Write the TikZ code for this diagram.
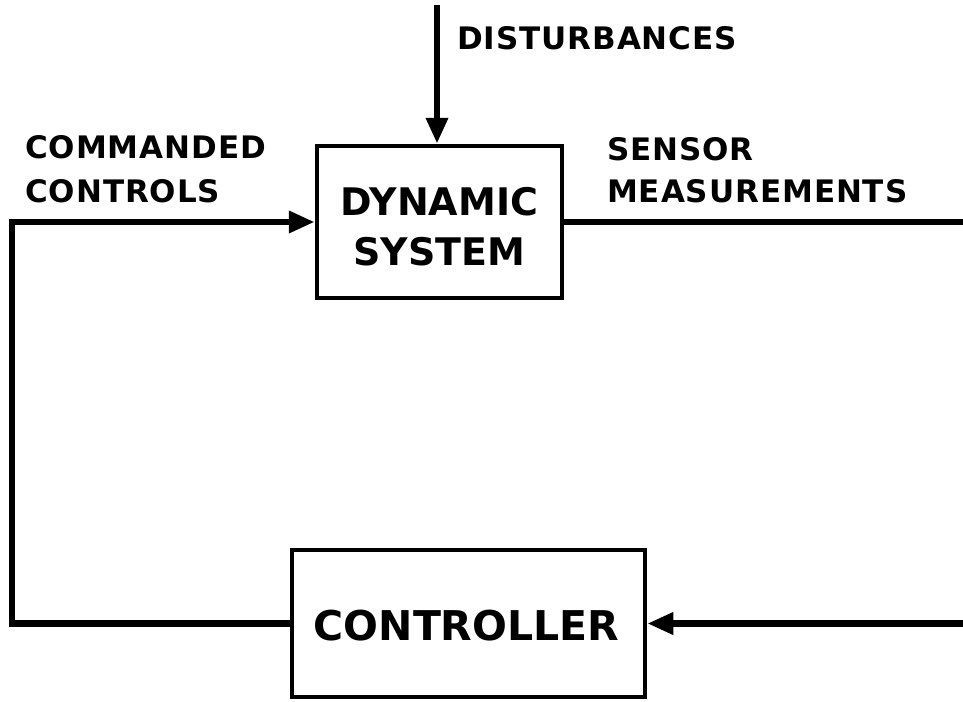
\documentclass[tikz,border=0pt]{standalone}
\usepackage{fontspec}
\setmainfont{DejaVu Sans}
\newfontfamily\lblfont[LetterSpace=3]{DejaVu Sans Bold}
\newfontfamily\boxfont{DejaVu Sans Bold}
\usetikzlibrary{arrows.meta}
\begin{document}
\begin{tikzpicture}[x=1pt,y=-1pt,
  blk/.style={draw, line width=4.5pt, inner sep=0pt, align=center},
  wire/.style={line width=6.5pt},
  arr/.style={wire, -{Triangle[length=26pt,width=21pt]}},
  boxtxt/.style={inner sep=0pt, anchor=base, font=\boxfont\fontsize{38}{46}\selectfont},
  lbl/.style={anchor=base west, inner sep=0pt, font=\lblfont\fontsize{31}{40}\selectfont, align=left}]
\useasboundingbox (0,0) rectangle (963,701);
% blocks
\node[blk, minimum width=245pt, minimum height=152pt] (dyn) at (439.5,222) {};
\node[boxtxt] (dyn1) at (439.5,215) {DYNAMIC};
\node[boxtxt] (dyn2) at (439.5,265) {SYSTEM};
\node[blk, minimum width=353pt, minimum height=147pt] (ctl) at (468.5,623.5) {};
\node[boxtxt, font=\boxfont\fontsize{41}{48}\selectfont] (ctltxt) at (466.5,640) {CONTROLLER};
% labels
\node[lbl] (dist) at (457,50) {DISTURBANCES};
\node[lbl] (cmd1) at (25,158) {COMMANDED};
\node[lbl] (cmd2) at (25,202) {CONTROLS};
\node[lbl] (sen1) at (607,160) {SENSOR};
\node[lbl] (sen2) at (607,202) {MEASUREMENTS};
% coordinates
\coordinate (dtop) at (437,5);
\coordinate (lb) at (12,623.5);
\coordinate (lt) at (12,222);
\coordinate (rt) at (963,222);
\coordinate (rb) at (963,623.5);
% connectors
\draw[arr] (dtop) -- (dtop |- dyn.north);
\draw[arr, line join=miter] (ctl.west) -- (lb) -- (lt) -- (dyn.west);
\draw[wire] (dyn.east) -- (rt);
\draw[arr] (rb) -- (ctl.east);
\end{tikzpicture}
\end{document}
